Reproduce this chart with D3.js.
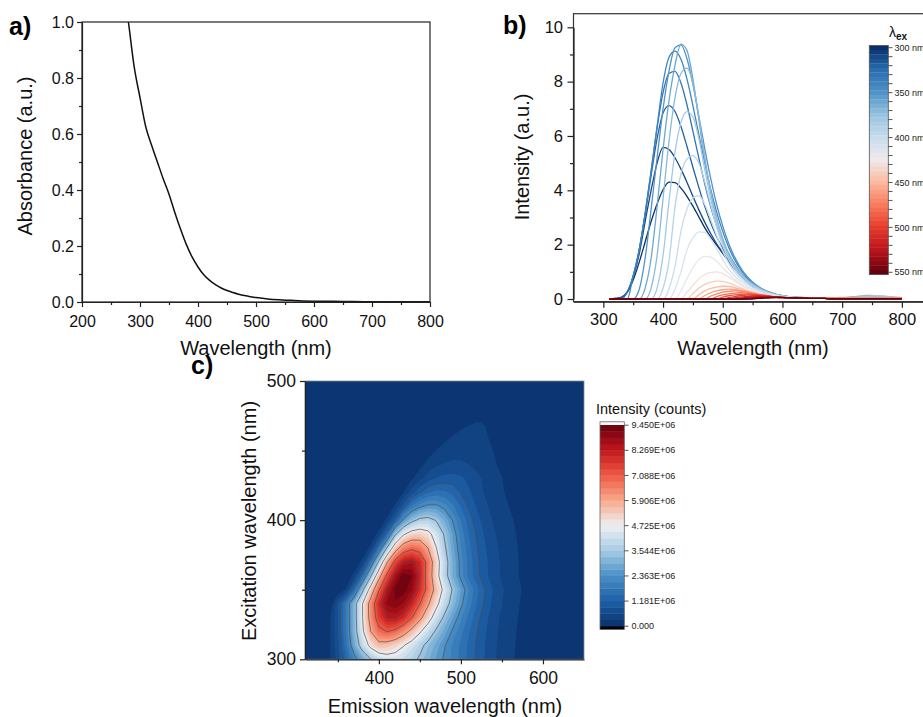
<!DOCTYPE html>
<html>
<head>
<meta charset="utf-8">
<script src="https://cdn.jsdelivr.net/npm/d3@7"></script>
<style>
  body { margin: 0; background: #fff; }
  svg { display: block; }
</style>
</head>
<body>
<svg id="fig" width="923" height="717"></svg>
<script>
// ---------------- data ----------------
// (a) UV-vis absorbance
const absWavelength = [278, 280, 290, 300, 310, 320, 330, 340, 350, 360, 370, 380, 390, 400, 410, 420, 430, 440, 450, 460, 470, 480, 490, 500, 520, 540, 560, 580, 600, 650, 700, 750, 800];
const absorbance    = [1.03, 1.00, 0.84, 0.73, 0.625, 0.56, 0.50, 0.44, 0.385, 0.32, 0.26, 0.205, 0.16, 0.125, 0.097, 0.077, 0.062, 0.050, 0.041, 0.034, 0.028, 0.023, 0.019, 0.016, 0.011, 0.008, 0.006, 0.004, 0.003, 0.002, 0.001, 0.001, 0.001];

// (b, c) excitation-emission data, intensity in 10^6 counts
const excitation = d3.range(300, 551, 10);   // nm
const emission   = d3.range(310, 801, 10);   // nm
// each spectrum is listed from emission = excitation + 10 nm up to 800 nm
const spectra = [
  /*300*/ [0,0.02,0.06,0.25,0.70,1.35,2.10,2.85,3.50,4.02, 4.30,4.28,4.08,3.78,3.42,3.02,2.62,2.28,1.98,1.68, 1.38,1.10,0.85,0.64,0.47,0.34,0.25,0.18,0.13,0.10, 0.08,0.06,0.05,0.05,0.04,0.04,0.04,0.04,0.04,0.05, 0.05,0.05,0.06,0.06,0.06,0.06,0.05,0.05,0.05,0.05],
  /*310*/ [0.02,0.06,0.25,0.80,1.65,2.85,4.00,5.00,5.58, 5.50,5.20,4.78,4.30,3.78,3.28,2.82,2.40,2.02,1.70, 1.40,1.12,0.87,0.66,0.49,0.36,0.26,0.19,0.14,0.10, 0.08,0.06,0.05,0.05,0.04,0.04,0.04,0.04,0.04,0.05, 0.05,0.05,0.05,0.06,0.06,0.05,0.05,0.05,0.05,0.05],
  /*320*/ [0.05,0.25,0.85,1.80,3.10,4.55,5.90,6.85, 7.12,6.90,6.35,5.62,4.85,4.10,3.40,2.80,2.28,1.86, 1.50,1.18,0.90,0.68,0.50,0.37,0.27,0.19,0.14,0.10, 0.08,0.06,0.05,0.05,0.04,0.04,0.04,0.04,0.04,0.04, 0.05,0.05,0.05,0.05,0.05,0.05,0.05,0.05,0.05,0.05],
  /*330*/ [0.25,0.85,1.80,3.15,4.70,6.30,7.60, 8.30,8.38,7.95,7.15,6.18,5.18,4.22,3.38,2.68,2.12, 1.66,1.28,0.97,0.73,0.54,0.40,0.29,0.21,0.15,0.11, 0.08,0.07,0.05,0.05,0.04,0.04,0.04,0.04,0.04,0.04, 0.04,0.05,0.05,0.05,0.05,0.05,0.05,0.05,0.05,0.05],
  /*340*/ [0.85,1.80,3.15,4.70,6.35,7.95, 8.90,9.12,8.82,8.10,7.12,6.05,5.00,4.02,3.18,2.48, 1.90,1.44,1.08,0.80,0.59,0.43,0.31,0.22,0.16,0.12, 0.09,0.07,0.05,0.05,0.04,0.04,0.04,0.04,0.04,0.04, 0.04,0.04,0.05,0.05,0.05,0.05,0.05,0.04,0.04,0.04],
  /*350*/ [0.35,1.50,3.30,5.20,7.00, 8.40,9.25,9.35,8.85,7.90,6.72,5.52,4.42,3.46,2.68, 2.04,1.54,1.15,0.85,0.63,0.46,0.33,0.24,0.17,0.12, 0.09,0.07,0.06,0.05,0.04,0.04,0.04,0.04,0.04,0.04, 0.04,0.04,0.04,0.05,0.05,0.05,0.04,0.04,0.04,0.04],
  /*360*/ [0.40,1.50,3.40,5.50, 7.30,8.60,9.38,9.15,8.10,6.60,5.10,3.90,2.95,2.22, 1.66,1.26,0.96,0.73,0.55,0.41,0.30,0.22,0.16,0.12, 0.09,0.07,0.06,0.05,0.04,0.04,0.04,0.04,0.04,0.04, 0.04,0.05,0.05,0.05,0.05,0.05,0.04,0.04,0.04,0.04],
  /*370*/ [0.40,1.60,3.70, 5.80,7.40,8.30,8.50,7.95,6.70,5.20,3.95,2.95,2.20, 1.64,1.24,0.95,0.72,0.55,0.41,0.30,0.22,0.16,0.12, 0.09,0.07,0.06,0.05,0.05,0.05,0.05,0.05,0.05,0.06, 0.07,0.09,0.11,0.13,0.13,0.11,0.09,0.07,0.06,0.05],
  /*380*/ [0.40,1.60, 3.60,5.40,6.50,6.90,6.70,5.90,4.75,3.68,2.78,2.08, 1.56,1.18,0.90,0.69,0.52,0.39,0.29,0.21,0.15,0.11, 0.08,0.06,0.05,0.05,0.04,0.04,0.04,0.04,0.04,0.05, 0.05,0.06,0.07,0.09,0.11,0.12,0.11,0.09,0.07,0.06],
  /*390*/ [0.40, 1.40,3.40,4.60,5.15,5.28,5.00,4.30,3.45,2.62,1.96, 1.46,1.10,0.83,0.63,0.48,0.36,0.27,0.20,0.14,0.10, 0.08,0.06,0.05,0.04,0.04,0.04,0.04,0.04,0.04,0.04, 0.04,0.04,0.04,0.04,0.04,0.04,0.04,0.04,0.04,0.04],
  /*400*/ [0.38,1.20,2.50,3.30,3.72,3.80,3.48,2.92,2.32,1.76, 1.32,0.98,0.74,0.56,0.43,0.33,0.25,0.18,0.13,0.09, 0.07,0.05,0.04,0.04,0.04,0.03,0.03,0.03,0.03,0.03, 0.03,0.03,0.03,0.03,0.03,0.03,0.03,0.03,0.03,0.03],
  /*410*/ [0.35,1.00,1.80,2.25,2.47,2.45,2.20,1.84,1.45, 1.10,0.84,0.64,0.49,0.37,0.28,0.21,0.16,0.12,0.09, 0.07,0.05,0.04,0.04,0.03,0.03,0.03,0.03,0.03,0.03, 0.03,0.03,0.03,0.03,0.03,0.03,0.03,0.03,0.03,0.03],
  /*420*/ [0.30,0.75,1.15,1.45,1.57,1.54,1.38,1.16, 0.93,0.72,0.55,0.42,0.32,0.24,0.18,0.14,0.10,0.08, 0.06,0.05,0.04,0.03,0.03,0.03,0.03,0.03,0.03,0.03, 0.03,0.03,0.03,0.03,0.03,0.03,0.03,0.03,0.03,0.03],
  /*430*/ [0.25,0.50,0.74,0.90,0.98,1.00,0.94, 0.81,0.66,0.52,0.40,0.30,0.23,0.17,0.13,0.10,0.07, 0.05,0.04,0.04,0.03,0.03,0.03,0.02,0.02,0.02,0.02, 0.02,0.02,0.02,0.02,0.02,0.02,0.02,0.02,0.02,0.02],
  /*440*/ [0.20,0.40,0.54,0.62,0.66,0.65, 0.59,0.50,0.41,0.32,0.25,0.19,0.15,0.11,0.08,0.06, 0.05,0.04,0.03,0.03,0.02,0.02,0.02,0.02,0.02,0.02, 0.02,0.02,0.02,0.02,0.02,0.02,0.02,0.02,0.02,0.02],
  /*450*/ [0.16,0.30,0.39,0.44,0.47, 0.46,0.42,0.36,0.29,0.23,0.18,0.14,0.10,0.08,0.06, 0.05,0.04,0.03,0.03,0.02,0.02,0.02,0.02,0.02,0.02, 0.02,0.02,0.02,0.02,0.02,0.02,0.02,0.02,0.02,0.02],
  /*460*/ [0.13,0.23,0.30,0.34, 0.36,0.35,0.31,0.26,0.21,0.16,0.13,0.10,0.08,0.06, 0.05,0.04,0.03,0.03,0.02,0.02,0.02,0.02,0.02,0.02, 0.02,0.02,0.02,0.02,0.02,0.02,0.02,0.02,0.02,0.02],
  /*470*/ [0.11,0.19,0.25, 0.28,0.30,0.29,0.26,0.22,0.17,0.13,0.10,0.08,0.06, 0.05,0.04,0.03,0.03,0.02,0.02,0.02,0.02,0.02,0.02, 0.02,0.02,0.02,0.02,0.02,0.02,0.02,0.02,0.02,0.02],
  /*480*/ [0.09,0.15, 0.19,0.22,0.23,0.22,0.19,0.16,0.13,0.10,0.08,0.06, 0.05,0.04,0.03,0.03,0.02,0.02,0.02,0.02,0.02,0.02, 0.02,0.02,0.02,0.02,0.02,0.02,0.02,0.02,0.02,0.02],
  /*490*/ [0.07, 0.12,0.15,0.17,0.18,0.17,0.15,0.13,0.10,0.08,0.06, 0.05,0.04,0.03,0.03,0.02,0.02,0.02,0.02,0.02,0.02, 0.02,0.02,0.02,0.02,0.02,0.02,0.02,0.02,0.02,0.02],
  /*500*/ [0.05,0.09,0.12,0.14,0.14,0.13,0.12,0.10,0.08,0.06, 0.05,0.04,0.03,0.03,0.02,0.02,0.02,0.01,0.01,0.01, 0.01,0.01,0.01,0.01,0.01,0.01,0.01,0.01,0.01,0.01],
  /*510*/ [0.04,0.07,0.09,0.11,0.11,0.10,0.09,0.08,0.06, 0.05,0.04,0.03,0.03,0.02,0.02,0.02,0.01,0.01,0.01, 0.01,0.01,0.01,0.01,0.01,0.01,0.01,0.01,0.01,0.01],
  /*520*/ [0.03,0.06,0.08,0.09,0.09,0.08,0.07,0.06, 0.05,0.04,0.03,0.03,0.02,0.02,0.02,0.01,0.01,0.01, 0.01,0.01,0.01,0.01,0.01,0.01,0.01,0.01,0.01,0.01],
  /*530*/ [0.03,0.05,0.06,0.07,0.07,0.06,0.05, 0.05,0.04,0.03,0.03,0.02,0.02,0.02,0.01,0.01,0.01, 0.01,0.01,0.01,0.01,0.01,0.01,0.01,0.01,0.01,0.01],
  /*540*/ [0.02,0.04,0.05,0.06,0.06,0.05, 0.05,0.04,0.03,0.03,0.02,0.02,0.02,0.01,0.01,0.01, 0.01,0.01,0.01,0.01,0.01,0.01,0.01,0.01,0.01,0.01],
  /*550*/ [0.02,0.03,0.04,0.05,0.05, 0.04,0.04,0.03,0.03,0.02,0.02,0.02,0.01,0.01,0.01, 0.01,0.01,0.01,0.01,0.01,0.01,0.01,0.01,0.01,0.01]
];

// axis ticks and colour-bar labels
const aXTicks = [200, 300, 400, 500, 600, 700, 800];
const aYTicks = [0, 0.2, 0.4, 0.6, 0.8, 1.0];
const bXTicks = [300, 400, 500, 600, 700, 800];
const bYTicks = [0, 2, 4, 6, 8, 10];
const bBarLabels = [300, 350, 400, 450, 500, 550];
const cXTicks = [400, 500, 600];
const cYTicks = [300, 400, 500];
const cMax = 9.45;
const cBarTicks  = [0, 1.18125, 2.3625, 3.54375, 4.725, 5.90625, 7.0875, 8.26875, 9.45];
const cBarLabels = ["0.000", "1.181E+06", "2.363E+06", "3.544E+06", "4.725E+06", "5.906E+06", "7.088E+06", "8.269E+06", "9.450E+06"];

// full emission matrix: zero below the excitation line
const matrix = spectra.map((row, i) => {
  const lead = emission.length - row.length;
  return d3.range(lead).map(() => 0).concat(row);
});

// ---------------- helpers ----------------
const FONT = '"Liberation Sans", Arial, Helvetica, sans-serif';
const INK = "#222";
const svg = d3.select("#fig");

function styleAxis(g, fs) {
  g.attr("font-family", FONT).attr("font-size", fs);
  g.selectAll("path.domain").attr("stroke", INK).attr("stroke-width", 1.2);
  g.selectAll(".tick line").attr("stroke", INK).attr("stroke-width", 1.2);
  g.selectAll(".tick text").attr("fill", "#111");
  return g;
}
function minor(g, axis) {
  g.call(axis.tickFormat("").tickSizeOuter(0));
  g.select("path.domain").remove();
  g.selectAll(".tick line").attr("stroke", INK).attr("stroke-width", 1.2);
}
function panelLabel(x, y, t) {
  svg.append("text").attr("x", x).attr("y", y).attr("font-family", FONT)
    .attr("font-weight", "bold").attr("font-size", 25).attr("fill", "#000").text(t);
}
function title(x, y, t, fs, rot) {
  svg.append("text").attr("transform", `translate(${x},${y})` + (rot ? " rotate(-90)" : ""))
    .attr("text-anchor", "middle").attr("font-family", FONT).attr("font-size", fs)
    .attr("fill", "#111").text(t);
}

// ---------------- (a) absorbance ----------------
const xa = d3.scaleLinear([200, 800], [82, 430]);
const ya = d3.scaleLinear([0, 1], [302, 22]);
svg.append("clipPath").attr("id", "clipA").append("rect")
  .attr("x", 82).attr("y", 22).attr("width", 348).attr("height", 280);
svg.append("path").datum(d3.zip(absWavelength, absorbance))
  .attr("clip-path", "url(#clipA)").attr("fill", "none")
  .attr("stroke", "#111").attr("stroke-width", 1.5)
  .attr("d", d3.line().x(d => xa(d[0])).y(d => ya(d[1])).curve(d3.curveMonotoneX));
svg.append("rect").attr("x", 82).attr("y", 22).attr("width", 348).attr("height", 280)
  .attr("fill", "none").attr("stroke", INK).attr("stroke-width", 1.2);
styleAxis(svg.append("g").attr("transform", "translate(0,302)")
  .call(d3.axisBottom(xa).tickValues(aXTicks).tickSize(5).tickPadding(9).tickSizeOuter(0)
    .tickFormat(d3.format("d"))), 16);
minor(svg.append("g").attr("transform", "translate(0,302)"),
  d3.axisBottom(xa).tickValues([250, 350, 450, 550, 650, 750]).tickSize(3));
styleAxis(svg.append("g").attr("transform", "translate(82,0)")
  .call(d3.axisLeft(ya).tickValues(aYTicks).tickSize(5).tickPadding(3).tickSizeOuter(0)
    .tickFormat(d3.format(".1f"))), 16);
minor(svg.append("g").attr("transform", "translate(82,0)"),
  d3.axisLeft(ya).tickValues([0.1, 0.3, 0.5, 0.7, 0.9]).tickSize(3));
title(256, 355, "Wavelength (nm)", 20);
title(32, 156, "Absorbance (a.u.)", 20, true);
panelLabel(9, 35, "a)");

// ---------------- (b) emission spectra ----------------
const xb = d3.scaleLinear([250, 850], [573.5, 931.7]);
const yb = d3.scaleLinear([0, 10], [299, 27.3]);
const exColor = d3.scaleLinear()
  .domain([300, 325, 350, 375, 400, 425, 450, 475, 500, 525, 550])
  .range(["#08306b", "#2a6db0", "#4f93c7", "#98c4e0", "#c9dcee", "#eeeaec",
          "#fcb99c", "#f8795b", "#e63b2c", "#bb141b", "#67000d"]);
svg.append("clipPath").attr("id", "clipB").append("rect")
  .attr("x", xb(250)).attr("y", yb(10.5)).attr("width", xb(850) - xb(250)).attr("height", yb(-0.1) - yb(10.5));
const lineB = d3.line().x((d, j) => xb(emission[j])).y(d => yb(d)).curve(d3.curveMonotoneX);
svg.append("g").attr("clip-path", "url(#clipB)")
  .selectAll("path").data(matrix).join("path")
  .attr("fill", "none").attr("stroke-width", 1.3)
  .attr("stroke", (d, i) => exColor(excitation[i]))
  .attr("d", lineB);
svg.append("rect").attr("x", xb(250)).attr("y", yb(10.5))
  .attr("width", xb(850) - xb(250)).attr("height", yb(-0.1) - yb(10.5))
  .attr("fill", "none").attr("stroke", "#333").attr("stroke-width", 1.2);
styleAxis(svg.append("g").attr("transform", `translate(0,${yb(-0.1)})`)
  .call(d3.axisBottom(xb).tickValues(bXTicks).tickSize(6).tickPadding(5.5).tickSizeOuter(0)), 16.5);
minor(svg.append("g").attr("transform", `translate(0,${yb(-0.1)})`),
  d3.axisBottom(xb).tickValues([350, 450, 550, 650, 750]).tickSize(3.5));
styleAxis(svg.append("g").attr("transform", `translate(${xb(250)},0)`)
  .call(d3.axisLeft(yb).tickValues(bYTicks).tickSize(6).tickPadding(4.5).tickSizeOuter(0)), 16.5);
minor(svg.append("g").attr("transform", `translate(${xb(250)},0)`),
  d3.axisLeft(yb).tickValues([1, 3, 5, 7, 9]).tickSize(3.5));
title(753, 355, "Wavelength (nm)", 20);
title(529, 157, "Intensity (a.u.)", 20, true);
panelLabel(503, 34, "b)");

// excitation colour bar
const lb = d3.scaleLinear([300, 550], [47.7, 272.3]);
const barB = svg.append("g");
barB.selectAll("rect.band").data(d3.range(300, 551, 5)).join("rect").attr("class", "band")
  .attr("x", 869.3).attr("width", 19)
  .attr("y", d => lb(d) - 2.3).attr("height", 4.8)
  .attr("fill", d => exColor(d));
barB.append("rect").attr("x", 869.3).attr("y", lb(300) - 2.3).attr("width", 19)
  .attr("height", lb(550) - lb(300) + 4.6).attr("fill", "none").attr("stroke", "#555").attr("stroke-width", 0.8);
barB.selectAll("line.tk").data(d3.range(300, 551, 10)).join("line").attr("class", "tk")
  .attr("x1", 888.3).attr("x2", 892.5).attr("y1", d => lb(d)).attr("y2", d => lb(d))
  .attr("stroke", "#444").attr("stroke-width", 0.9);
barB.selectAll("text.lbl").data(bBarLabels).join("text").attr("class", "lbl")
  .attr("x", 894.5).attr("y", d => lb(d)).attr("dy", "0.35em")
  .attr("font-family", FONT).attr("font-size", 9).attr("fill", "#222")
  .text(d => d + " nm");
const lam = barB.append("text").attr("x", 889).attr("y", 37)
  .attr("font-family", FONT).attr("font-size", 14).attr("fill", "#111");
lam.append("tspan").text("λ");
lam.append("tspan").attr("dy", 3).attr("font-size", 10).attr("font-weight", "bold").text("ex");

// ---------------- (c) excitation-emission contour map ----------------
const xc = d3.scaleLinear([310, 650], [305, 584]);
const yc = d3.scaleLinear([300, 500], [659.3, 381]);
const step = cMax / 32;
const countColor = d3.scaleLinear()
  .domain(cBarTicks)
  .range(["#0a306b", "#1d5fa7", "#4a8fc6", "#a5cbe4", "#eeeff3", "#f9a98b", "#ef5a45", "#c2161d", "#67000d"])
  .clamp(true);
const levels = d3.range(1, 32).map(k => k * step);
const nx = emission.length, ny = excitation.length;
const contours = d3.contours().size([nx, ny]).thresholds(levels)(matrix.flat());
const gridToPlot = d3.geoTransform({
  point(x, y) {
    this.stream.point(xc(emission[0] + 10 * (x - 0.5)), yc(excitation[0] + 10 * (y - 0.5)));
  }
});
const cPath = d3.geoPath(gridToPlot);
svg.append("clipPath").attr("id", "clipC").append("rect")
  .attr("x", 305).attr("y", 381).attr("width", 279).attr("height", 278.3);
const gc = svg.append("g").attr("clip-path", "url(#clipC)");
gc.append("rect").attr("x", 305).attr("y", 381).attr("width", 279).attr("height", 278.3)
  .attr("fill", countColor(0.5 * step));
gc.selectAll("path.band").data(contours).join("path").attr("class", "band")
  .attr("d", cPath).attr("fill", d => countColor(d.value + 0.5 * step));
gc.selectAll("path.iso").data(contours.filter((d, i) => (i + 1) % 4 === 0)).join("path").attr("class", "iso")
  .attr("d", cPath).attr("fill", "none").attr("stroke", "#4d4d4d")
  .attr("stroke-width", 0.8).attr("stroke-opacity", 0.85);
svg.append("rect").attr("x", 305).attr("y", 381).attr("width", 279).attr("height", 278.3)
  .attr("fill", "none").attr("stroke", "#8a8a8a").attr("stroke-width", 0.8);
styleAxis(svg.append("g").attr("transform", "translate(0,659.3)")
  .call(d3.axisBottom(xc).tickValues(cXTicks).tickSize(5).tickPadding(7).tickSizeOuter(0)), 17.5);
minor(svg.append("g").attr("transform", "translate(0,659.3)"),
  d3.axisBottom(xc).tickValues([350, 450, 550]).tickSize(3));
styleAxis(svg.append("g").attr("transform", "translate(305,0)")
  .call(d3.axisLeft(yc).tickValues(cYTicks).tickSize(5).tickPadding(4).tickSizeOuter(0)), 17.5);
minor(svg.append("g").attr("transform", "translate(305,0)"),
  d3.axisLeft(yc).tickValues([350, 450]).tickSize(3));
title(445, 713, "Emission wavelength (nm)", 20);
title(256, 521, "Excitation wavelength (nm)", 20, true);
panelLabel(191, 374, "c)");

// intensity colour bar
const lc = d3.scaleLinear([0, cMax], [626.2, 425.2]);
const barC = svg.append("g");
barC.append("rect").attr("x", 600).attr("y", lc(cMax) - 3.4).attr("width", 24.3).attr("height", 3.6).attr("fill", "#ffffff");
barC.append("rect").attr("x", 600).attr("y", lc(0) - 0.2).attr("width", 24.3).attr("height", 3.6).attr("fill", "#000000");
barC.selectAll("rect.band").data(d3.range(32)).join("rect").attr("class", "band")
  .attr("x", 600).attr("width", 24.3)
  .attr("y", k => lc((k + 1) * step) - 0.2).attr("height", k => lc(k * step) - lc((k + 1) * step) + 0.4)
  .attr("fill", k => countColor((k + 0.5) * step));
barC.append("rect").attr("x", 600).attr("y", lc(cMax) - 3.4).attr("width", 24.3)
  .attr("height", lc(0) - lc(cMax) + 6.8).attr("fill", "none").attr("stroke", "#666").attr("stroke-width", 0.8);
barC.selectAll("line.tk").data(cBarTicks).join("line").attr("class", "tk")
  .attr("x1", 624.3).attr("x2", 628.5).attr("y1", d => lc(d)).attr("y2", d => lc(d))
  .attr("stroke", "#444").attr("stroke-width", 0.9);
barC.selectAll("text.lbl").data(cBarTicks).join("text").attr("class", "lbl")
  .attr("x", 631.5).attr("y", d => lc(d)).attr("dy", "0.35em")
  .attr("font-family", FONT).attr("font-size", 9).attr("fill", "#222")
  .text((d, i) => cBarLabels[i]);
svg.append("text").attr("x", 596).attr("y", 414).attr("font-family", FONT)
  .attr("font-size", 14.5).attr("fill", "#111").text("Intensity (counts)");
</script>
</body>
</html>
